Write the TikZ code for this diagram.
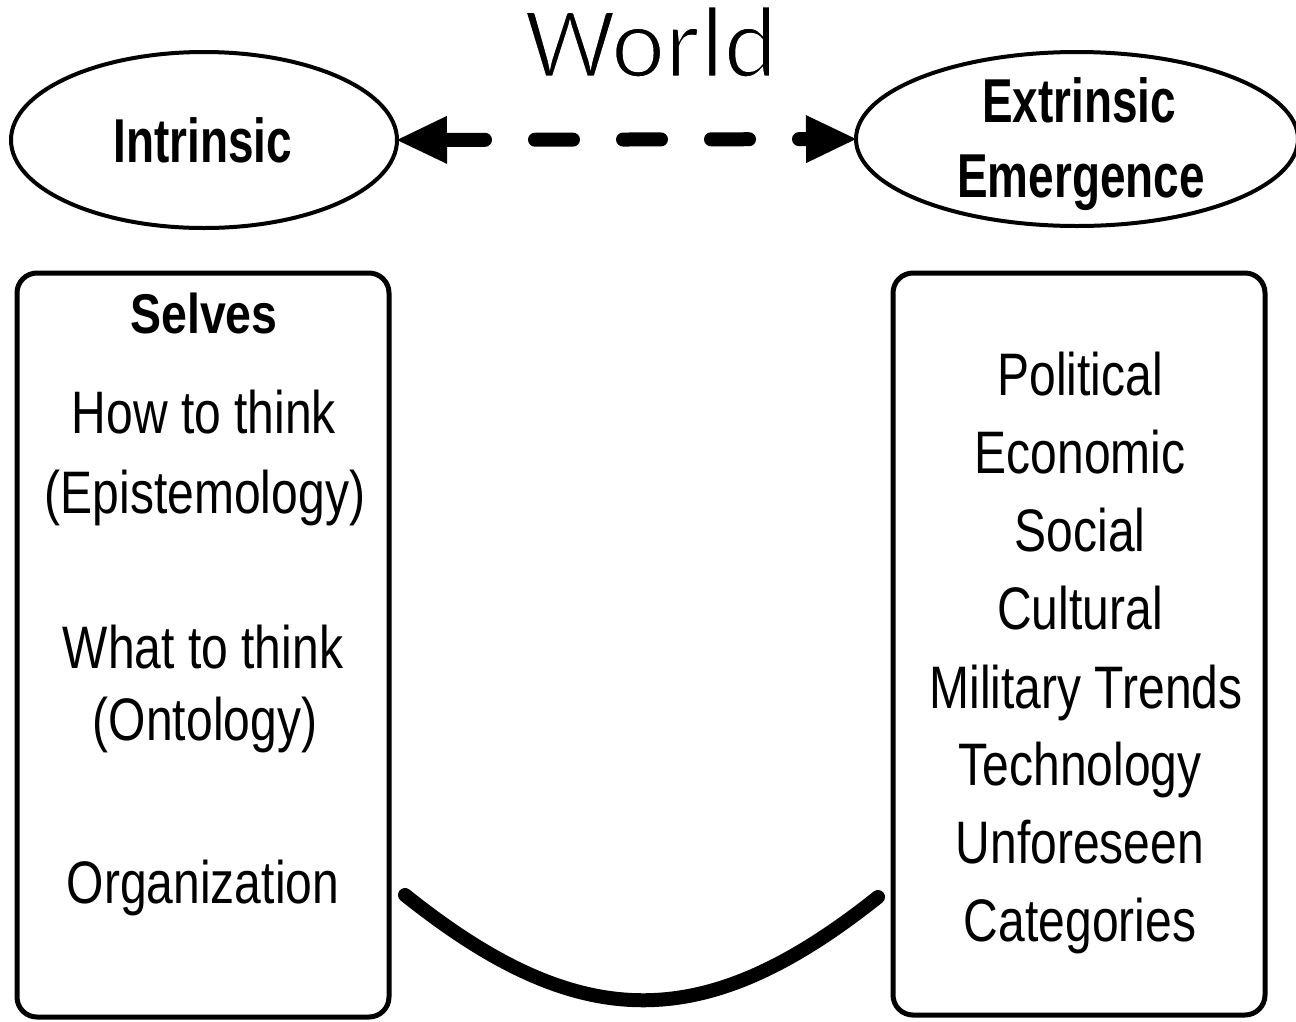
\documentclass[tikz,border=0pt]{standalone}
\usepackage{fontspec}
\setmainfont{Liberation Sans}
\newfontfamily\worldfont{Carlito}
\newfontfamily\condreg[FakeStretch=0.80]{Liberation Sans}
\newfontfamily\condbold[FakeStretch=0.74]{Liberation Sans}
\newfontfamily\condselves[FakeStretch=0.83]{Liberation Sans}
\usetikzlibrary{shapes.geometric,arrows.meta}
\newcommand{\thinstroke}[1]{\special{pdf:literal direct 2 Tr 1 1 1 RG 2.6 w}#1\special{pdf:literal direct 0 Tr}}
\begin{document}
\begin{tikzpicture}[x=1pt,y=-1pt,
  bubble/.style={ellipse,draw,line width=4pt,inner sep=0pt,outer sep=0pt},
  panel/.style={draw,line width=5pt,rounded corners=20pt,inner sep=0pt,outer sep=0pt},
  lbl/.style={anchor=base,inner sep=0pt,font=\condreg\fontsize{60}{72}\selectfont},
  blbl/.style={anchor=base,inner sep=0pt,font=\condbold\bfseries\fontsize{62}{72}\selectfont},
  slbl/.style={anchor=base,inner sep=0pt,font=\condselves\bfseries\fontsize{56}{68}\selectfont},
  ttl/.style={anchor=base,inner sep=0pt,font=\worldfont\fontsize{102}{110}\selectfont},
  dasharrow/.style={line width=14pt,line cap=round,dash pattern=on 38pt off 50pt,
    {Triangle[length=50pt,width=48pt,line width=0pt]}-{Triangle[length=50pt,width=48pt,line width=0pt]}},
  swoosh/.style={line width=14pt,line cap=round}]
\useasboundingbox (0,0) rectangle (1296,1021);
\fill[white] (0,0) rectangle (1296,1021);

% title
\node[ttl] (world) at (651,77) {\thinstroke{World}};

% ellipses
\node[bubble,minimum width=386pt,minimum height=176pt] (intr) at (204,140) {};
\node[bubble,minimum width=442pt,minimum height=174pt] (extr) at (1077,139) {};
\node[blbl] (intrT) at (203,162) {Intrinsic};
\node[blbl] (extrT1) at (1079,122) {Extrinsic};
\node[blbl] (extrT2) at (1081,197) {Emergence};

% dashed double arrow
\draw[dasharrow] (intr.east) -- (extr.west);

% boxes
\node[panel,minimum width=372pt,minimum height=744pt] (lbox) at (203,645) {};
\node[panel,minimum width=372pt,minimum height=742pt] (rbox) at (1079,644) {};

% left box text
\node[slbl] (selves) at (204,333) {Selves};
\node[lbl] (l1) at (204,433) {How to think};
\node[lbl] (l2) at (205,513) {(Epistemology)};
\node[lbl] (l3) at (203,668) {What to think};
\node[lbl] (l4) at (205,740) {(Ontology)};
\node[lbl] (l5) at (203,903) {Organization};

% right box text
\node[lbl] (r1) at (1080,395) {Political};
\node[lbl] (r2) at (1080,473) {Economic};
\node[lbl] (r3) at (1080,551) {Social};
\node[lbl] (r4) at (1080,629) {Cultural};
\node[lbl] (r5) at (1086,708) {Military Trends};
\node[lbl] (r6) at (1080,785) {Technology};
\node[lbl] (r7) at (1080,863) {Unforeseen};
\node[lbl] (r8) at (1080,941) {Categories};

% bottom curve
\coordinate (cl) at (405,895);
\coordinate (cr) at (878,897);
\draw[swoosh] (cl) .. controls (580,1035) and (705,1035) .. (cr);
\end{tikzpicture}
\end{document}
